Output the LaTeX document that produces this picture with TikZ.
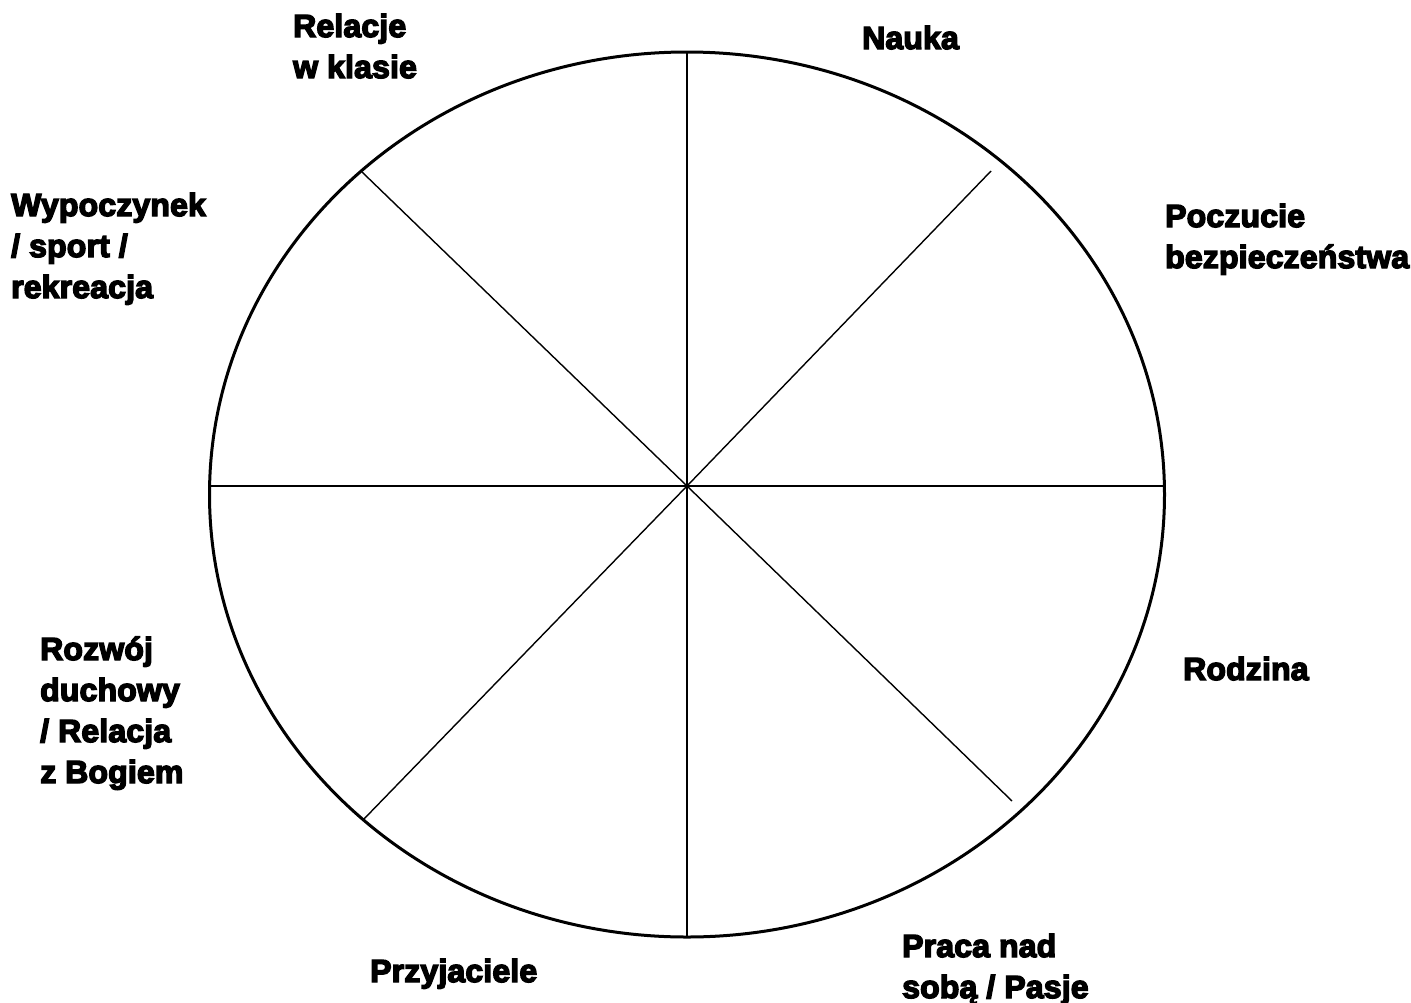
\documentclass[tikz,border=0pt]{standalone}
\usepackage{fontspec}
\setmainfont{Liberation Sans}[BoldFeatures={FakeBold=4.5,LetterSpace=0.5}]
\usepackage{tikz}
\usetikzlibrary{positioning,calc}
\tikzset{
  rim/.style={draw=black, line width=3pt},
  spoke/.style={draw=black, line width=1.4pt},
  area/.style={anchor=base west, align=left, inner sep=0pt,
    font=\fontsize{32}{41}\selectfont\bfseries},
}

\begin{document}
\begin{tikzpicture}[x=1pt, y=-1pt]
  \useasboundingbox[fill=white] (0,0) rectangle (1411,1002);
  \coordinate (mid) at (687,486);
  \coordinate (top) at (687,52);
  \coordinate (bot) at (687,937);
  \coordinate (lft) at (209,486);
  \coordinate (rgt) at (1164,486);
  \coordinate (ne) at (991,171);
  \coordinate (se) at (1012,801);
  \coordinate (nw) at (362,172);
  \coordinate (sw) at (363,820);
  \draw[rim] (687,494.5) ellipse [x radius=477.5, y radius=442.5];
  \draw[spoke] (top) -- (bot);
  \draw[spoke] (lft) -- (rgt);
  \draw[spoke] (mid) -- (ne);
  \draw[spoke] (mid) -- (se);
  \draw[spoke] (mid) -- (nw);
  \draw[spoke] (mid) -- (sw);
  % labels round the wheel (base = last line)
  \node[area] (klasa) at (293,78) {Relacje\\w klasie};
  \node[area] (nauka) at (862,49) {Nauka};
  \node[area] (bezp) at (1165,268) {Poczucie\\bezpieczeństwa};
  \node[area] (sport) at (11,298) {Wypoczynek\\/ sport /\\rekreacja};
  \node[area] (rodz) at (1183,680) {Rodzina};
  \node[area] (duch) at (40,783) {Rozwój\\duchowy\\/ Relacja\\z Bogiem};
  \node[area] (przyj) at (370,982) {Przyjaciele};
  \node[area] (pasje) at (902,998) {Praca nad\\sobą / Pasje};
\end{tikzpicture}
\end{document}
